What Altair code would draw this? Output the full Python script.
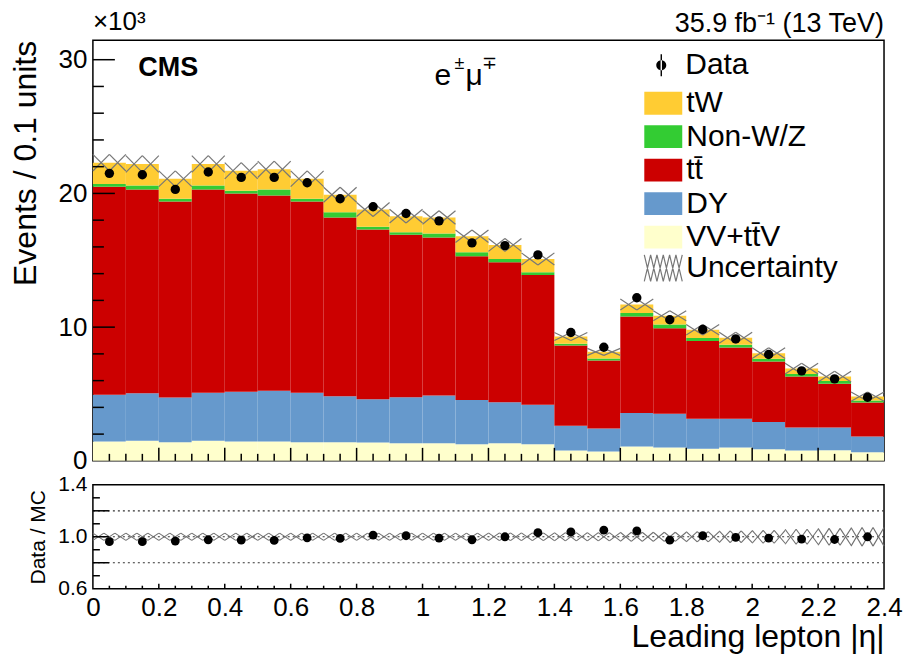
import altair as alt
import pandas as pd

FONT = "Liberation Sans"

# ---------------- data (values in units of 10^3 events) ----------------
bin_lo = [0.0, 0.1, 0.2, 0.3, 0.4, 0.5, 0.6, 0.7, 0.8, 0.9, 1.0, 1.1,
          1.2, 1.3, 1.4, 1.5, 1.6, 1.7, 1.8, 1.9, 2.0, 2.1, 2.2, 2.3]
bin_w = 0.1

vv = [1.45, 1.50, 1.40, 1.50, 1.45, 1.45, 1.40, 1.40, 1.37, 1.32, 1.32, 1.25,
      1.32, 1.25, 0.77, 0.70, 1.07, 1.00, 0.90, 1.00, 0.87, 0.77, 0.80, 0.65]
dy = [3.49, 3.56, 3.34, 3.59, 3.71, 3.79, 3.70, 3.44, 3.23, 3.44, 3.57, 3.31,
      3.07, 2.94, 1.85, 1.72, 2.50, 2.52, 2.24, 2.14, 2.03, 1.72, 1.69, 1.17]
ttbar = [15.56, 15.24, 14.66, 15.21, 14.84, 14.61, 14.30, 13.36, 12.70, 12.14, 11.81, 10.74,
         10.46, 9.71, 6.00, 5.08, 7.23, 6.40, 5.83, 5.33, 4.53, 3.81, 3.27, 2.54]
nonwz = [0.20, 0.30, 0.20, 0.30, 0.20, 0.45, 0.20, 0.40, 0.20, 0.20, 0.30, 0.30,
         0.25, 0.20, 0.13, 0.15, 0.25, 0.28, 0.21, 0.21, 0.20, 0.20, 0.22, 0.15]
tw = [1.60, 1.60, 1.50, 1.60, 1.50, 1.50, 1.50, 1.30, 1.30, 1.20, 1.20, 1.20,
      1.05, 1.00, 0.55, 0.50, 0.65, 0.65, 0.62, 0.52, 0.42, 0.40, 0.32, 0.30]
data_vals = [21.5, 21.4, 20.3, 21.6, 21.2, 21.2, 20.8, 19.6, 19.0, 18.5, 17.95, 16.3,
             16.1, 15.4, 9.6, 8.5, 12.2, 10.55, 9.82, 9.12, 7.95, 6.73, 6.13, 4.76]
ratio_vals = [0.962, 0.962, 0.967, 0.977, 0.974, 0.972, 0.992, 0.987, 1.013, 1.008, 0.990, 0.977,
              1.000, 1.031, 1.038, 1.051, 1.046, 0.974, 1.008, 0.995, 0.990, 0.982, 0.979, 1.000]
unc_frac = [0.028, 0.028, 0.028, 0.028, 0.028, 0.028, 0.028, 0.028, 0.028, 0.028, 0.028, 0.028,
            0.030, 0.030, 0.032, 0.032, 0.035, 0.035, 0.040, 0.045, 0.050, 0.058, 0.065, 0.072]

proc_names = ["VV+tt\u0304V", "DY", "tt\u0304", "Non-W/Z", "tW"]
proc_vals = [vv, dy, ttbar, nonwz, tw]
legend_order = ["tW", "Non-W/Z", "tt\u0304", "DY", "VV+tt\u0304V"]
legend_colors = ["#ffcc33", "#33cc33", "#cc0000", "#6699cc", "#ffffcc"]

x_labels = [0, 0.2, 0.4, 0.6, 0.8, 1, 1.2, 1.4, 1.6, 1.8, 2, 2.2, 2.4]
main_y_labels = [0, 10, 20, 30]
ratio_y_labels = [0.6, 1.0, 1.4]

# ---------------- derived tables ----------------
rows = []
totals = []
for i, lo in enumerate(bin_lo):
    base = 0.0
    for name, arr in zip(proc_names, proc_vals):
        rows.append(dict(lo=lo, hi=lo + bin_w, y0=base, y1=base + arr[i], proc=name))
        base += arr[i]
    totals.append(base)
stack_df = pd.DataFrame(rows)

def hatch_rows(centres, nx, relative):
    out = []
    for i, lo in enumerate(bin_lo):
        c = centres[i]
        d = c * unc_frac[i] if relative else unc_frac[i]
        step = bin_w / nx
        for j in range(nx):
            xa = lo + j * step
            xb = xa + step
            out.append(dict(xa=xa, xb=xb, ya=c - d, yb=c + d, lab="Uncertainty"))
            out.append(dict(xa=xa, xb=xb, ya=c + d, yb=c - d, lab="Uncertainty"))
    return pd.DataFrame(out)

hatch_main = hatch_rows(totals, 2, True)
hatch_ratio = hatch_rows([1.0] * len(bin_lo), 3, False)

pts_df = pd.DataFrame(dict(x=[l + bin_w / 2 for l in bin_lo], y=data_vals,
                           r=ratio_vals, lab=["Data"] * len(bin_lo)))

MAIN_W, MAIN_H, RATIO_H = 792, 421, 104
YMAX = 31.45

xs_main = alt.Scale(domain=[0, 2.4], nice=False, zero=False)
ys_main = alt.Scale(domain=[0, YMAX], nice=False)
ys_ratio = alt.Scale(domain=[0.6, 1.4], nice=False, zero=False)

# shared axis definitions (identical in every layer so that they merge)
main_y_axis = alt.Axis(values=main_y_labels, ticks=False, tickSize=0, domain=False, grid=False,
                       labelFont=FONT, labelFontSize=26, labelColor="black", labelPadding=6,
                       labelFlush=False, labelOverlap=False,
                       title="Events / 0.1 units", titleFont=FONT, titleFontSize=32,
                       titleFontWeight="normal", titleColor="black", titleAnchor="end",
                       titleX=-57, titleBaseline="alphabetic")
ratio_x_axis = alt.Axis(values=x_labels, format="~g", ticks=False, tickSize=0, domain=False,
                        grid=False, labelFont=FONT, labelFontSize=26, labelColor="black",
                        labelPadding=6, labelFlush=False, labelOverlap=False,
                        title="Leading lepton |\u03b7|", titleFont=FONT, titleFontSize=32,
                        titleFontWeight="normal", titleColor="black", titleAnchor="end",
                        titleY=58, titleBaseline="alphabetic")
ratio_y_axis = alt.Axis(values=ratio_y_labels, format=".1f", ticks=False, tickSize=0,
                        domain=False, grid=False, labelFont=FONT, labelFontSize=21,
                        labelColor="black", labelPadding=6, labelFlush=False,
                        labelOverlap=False, title="Data / MC", titleFont=FONT,
                        titleFontSize=21, titleFontWeight="normal", titleColor="black",
                        titleX=-48, titleBaseline="alphabetic")

RECT_PATH = "M-2,-1.2L2,-1.2L2,1.2L-2,1.2Z"
DATA_PATH = ("M-0.5,0A0.5,0.5,0,1,0,0.5,0A0.5,0.5,0,1,0,-0.5,0Z"
             "M-0.07,-1.1L0.07,-1.1L0.07,1.1L-0.07,1.1Z")
HATCH_PATH = ("M-2,-1.4L-1.333,1.4L-0.667,-1.4L0,1.4L0.667,-1.4L1.333,1.4L2,-1.4"
              "M-2,1.4L-1.333,-1.4L-0.667,1.4L0,-1.4L0.667,1.4L1.333,-1.4L2,1.4")

LEG_X = 556
LEG_DY = 3

# ---------------- main panel ----------------
bars = alt.Chart(stack_df).mark_rect(strokeWidth=0).encode(
    x=alt.X("lo:Q", scale=xs_main, axis=None),
    x2="hi:Q",
    y=alt.Y("y0:Q", scale=ys_main, axis=main_y_axis),
    y2="y1:Q",
    color=alt.Color("proc:N", scale=alt.Scale(domain=legend_order, range=legend_colors),
                    legend=alt.Legend(orient="none", legendX=LEG_X, legendY=45 + LEG_DY, title=None,
                                      symbolType=RECT_PATH, symbolSize=361, symbolStrokeWidth=0,
                                      symbolOpacity=1,
                                      labelFont=FONT, labelFontSize=30, labelColor="black",
                                      labelOffset=8, rowPadding=3.5)),
)

hatch_m = alt.Chart(hatch_main).mark_rule(strokeWidth=1.2).encode(
    x=alt.X("xa:Q", scale=xs_main, axis=None), x2="xb:Q",
    y=alt.Y("ya:Q", scale=ys_main, axis=main_y_axis), y2="yb:Q",
    stroke=alt.Stroke("lab:N", scale=alt.Scale(domain=["Uncertainty"], range=["#777777"]),
                      legend=alt.Legend(orient="none", legendX=LEG_X, legendY=210 + LEG_DY, title=None,
                                        symbolType=HATCH_PATH, symbolSize=361,
                                        symbolStrokeWidth=1.2, symbolFillColor="transparent",
                                        labelFont=FONT, labelFontSize=30, labelColor="black",
                                        labelOffset=8)),
)

points = alt.Chart(pts_df).mark_circle(size=88, opacity=1).encode(
    x=alt.X("x:Q", scale=xs_main, axis=None),
    y=alt.Y("y:Q", scale=ys_main, axis=main_y_axis),
    fill=alt.Fill("lab:N", scale=alt.Scale(domain=["Data"], range=["black"]),
                  legend=alt.Legend(orient="none", legendX=LEG_X - 2, legendY=7 + LEG_DY, title=None,
                                    symbolType=DATA_PATH, symbolSize=400, symbolStrokeWidth=0,
                                    symbolOpacity=1,
                                    labelFont=FONT, labelFontSize=30, labelColor="black",
                                    labelOffset=9)),
)

main_y_major = [10, 20, 30]
main_y_minor = [v for v in range(2, 31, 2) if v % 10 != 0]
x_major = [round(0.2 * k, 2) for k in range(1, 12)]
x_minor = [round(0.05 * k, 2) for k in range(1, 48) if k % 4 != 0]

def yticks(vals, length, scale, axis):
    return alt.Chart(pd.DataFrame(dict(v=vals))).mark_rule(color="black", strokeWidth=1.5).encode(
        y=alt.Y("v:Q", scale=scale, axis=axis), x=alt.value(0), x2=alt.value(length))

def xticks(vals, length, h, axis):
    return alt.Chart(pd.DataFrame(dict(v=vals))).mark_rule(color="black", strokeWidth=1.5).encode(
        x=alt.X("v:Q", scale=xs_main, axis=axis), y=alt.value(h), y2=alt.value(h - length))

one = pd.DataFrame(dict(a=[0]))

def label(text, x, y, size, align="left", weight="normal", baseline="alphabetic"):
    return alt.Chart(one).mark_text(text=text, font=FONT, fontSize=size, fontWeight=weight,
                                    align=align, baseline=baseline, color="black").encode(
        x=alt.value(x), y=alt.value(y))

main = alt.layer(
    bars, hatch_m, points,
    yticks(main_y_major, 22, ys_main, main_y_axis), yticks(main_y_minor, 11, ys_main, main_y_axis),
    xticks(x_major, 13, MAIN_H, None), xticks(x_minor, 7, MAIN_H, None),
    label("\u00d710\u00b3", 0, -10, 26),
    label("35.9 fb\u207b\u00b9 (13 TeV)", MAIN_W, -8, 27, align="right"),
    label("CMS", 45.5, 36, 27, weight="bold"),
    label("e", 342, 45, 30),
    label("\u00b1", 367, 29, 18, align="center"),
    label("\u03bc", 373, 45, 30),
    label("\u2213", 397, 29, 18, align="center"),
).properties(width=MAIN_W, height=MAIN_H)

# ---------------- ratio panel ----------------
ref_lines = alt.Chart(pd.DataFrame(dict(v=[0.8, 1.0, 1.2]))).mark_rule(
    color="#333333", strokeWidth=1.2, strokeDash=[2, 3]).encode(
    y=alt.Y("v:Q", scale=ys_ratio, axis=ratio_y_axis))

hatch_r = alt.Chart(hatch_ratio).mark_rule(strokeWidth=1.1, color="#6f6f6f").encode(
    x=alt.X("xa:Q", scale=xs_main, axis=ratio_x_axis), x2="xb:Q",
    y=alt.Y("ya:Q", scale=ys_ratio, axis=ratio_y_axis), y2="yb:Q")

rpoints = alt.Chart(pts_df).mark_circle(size=78, opacity=1, color="black").encode(
    x=alt.X("x:Q", scale=xs_main, axis=ratio_x_axis),
    y=alt.Y("r:Q", scale=ys_ratio, axis=ratio_y_axis),
)

ratio = alt.layer(
    ref_lines, hatch_r, rpoints,
    yticks([0.8, 1.0, 1.2], 16, ys_ratio, ratio_y_axis),
    yticks([0.7, 0.9, 1.1, 1.3], 7, ys_ratio, ratio_y_axis),
    xticks(x_major, 5, RATIO_H, ratio_x_axis), xticks(x_minor, 3, RATIO_H, ratio_x_axis),
).properties(width=MAIN_W, height=RATIO_H)

chart = alt.vconcat(main, ratio, spacing=24, bounds="flush").properties(
    padding={"left": 9, "top": 8, "right": 5, "bottom": 1},
    background="white",
).configure_view(stroke="black", strokeWidth=1.5).configure_concat(spacing=24)

chart.save("out.html", embed_options={"renderer": "svg", "actions": False})
